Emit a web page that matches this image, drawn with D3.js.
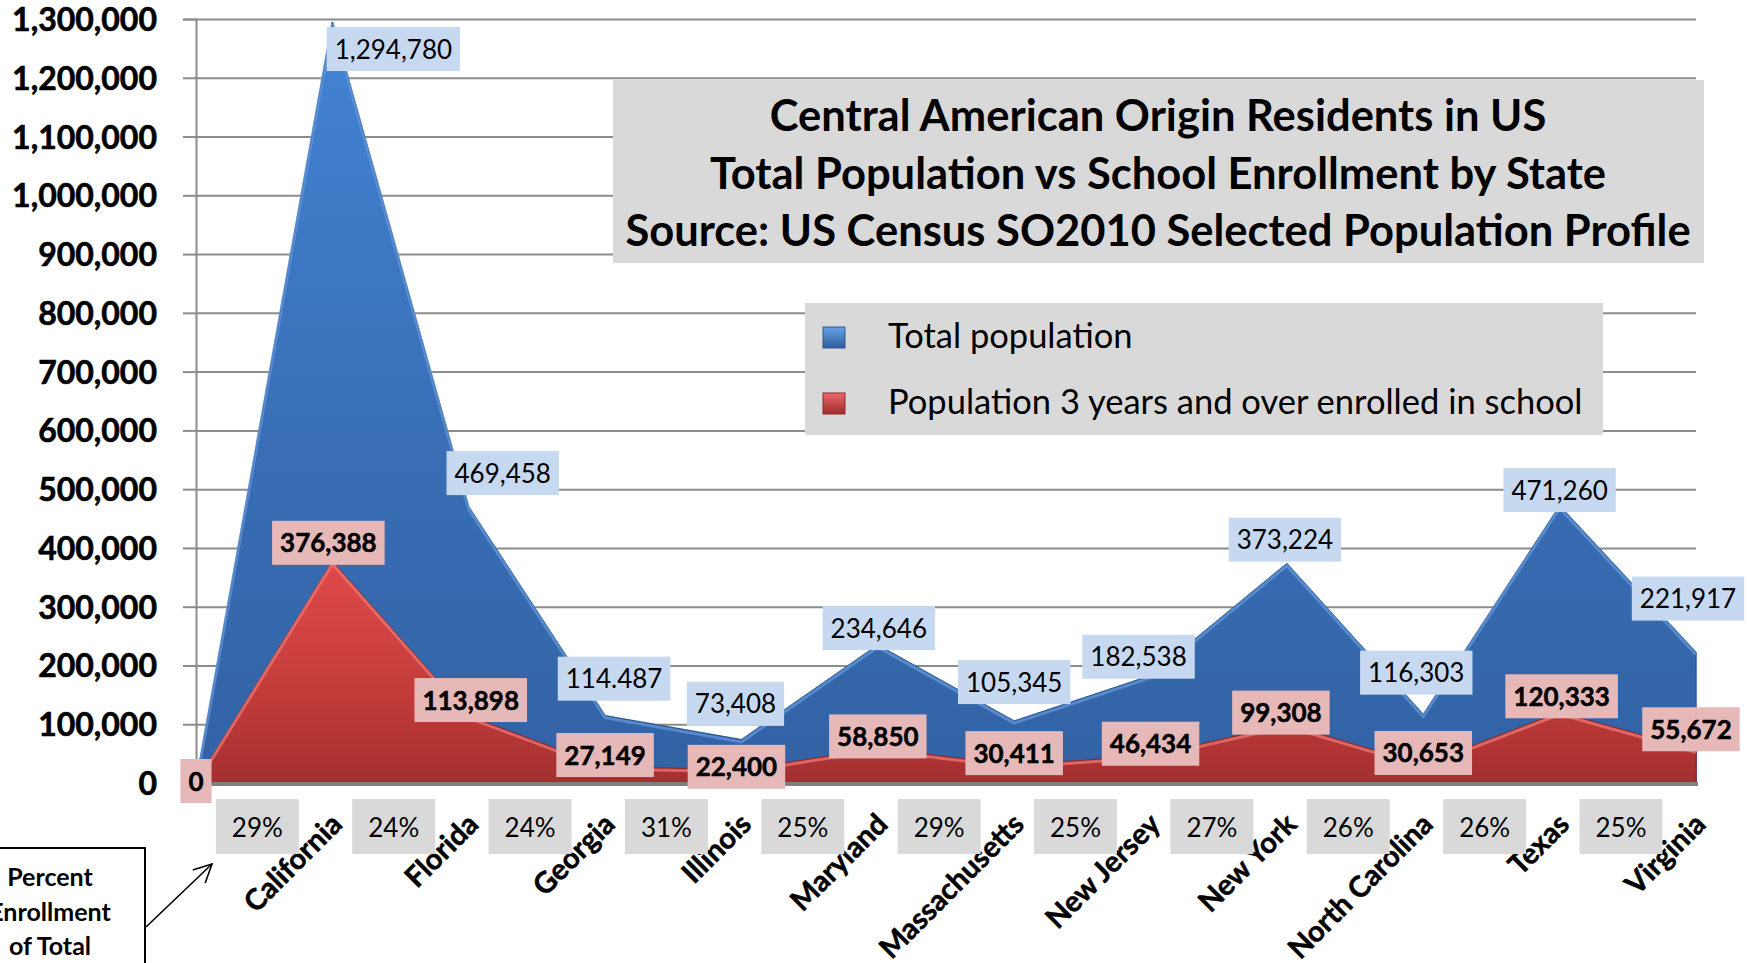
<!DOCTYPE html>
<html>
<head>
<meta charset="utf-8">
<script src="https://cdnjs.cloudflare.com/ajax/libs/d3/7.8.5/d3.min.js"></script>
<style>
  body { margin: 0; background: #ffffff; }
  svg { display: block; font-family: Lato, "Open Sans", sans-serif; }
</style>
</head>
<body>
<div id="vis"></div>
<script>
// ---- data ----
const states = ["", "California", "Florida", "Georgia", "Illinois", "Maryland", "Massachusetts",
                "New Jersey", "New York", "North Carolina", "Texas", "Virginia"];
const totalPop = [0, 1294780, 469458, 114487, 73408, 234646, 105345, 182538, 373224, 116303, 471260, 221917];
const enrolled = [0, 376388, 113898, 27149, 22400, 58850, 30411, 46434, 99308, 30653, 120333, 55672];
const pctLabels = ["29%", "24%", "24%", "31%", "25%", "29%", "25%", "27%", "26%", "26%", "25%"];
const yTicks = [0, 100000, 200000, 300000, 400000, 500000, 600000, 700000,
                800000, 900000, 1000000, 1100000, 1200000, 1300000];
const titleLines = ["Central American Origin Residents in US",
                    "Total Population vs School Enrollment by State",
                    "Source: US Census SO2010 Selected Population Profile"];
const legendLabels = ["Total population", "Population 3 years and over enrolled in school"];
const noteLines = ["Percent", "Enrollment", "of Total"];

const FRAME_WIDTH = 1748;
const FRAME_HEIGHT = 963;
const PLOT = {left: 196, right: 1696, top: 19, bottom: 783};

const FRAME = d3.select("#vis")
  .append("svg")
    .attr("width", FRAME_WIDTH)
    .attr("height", FRAME_HEIGHT);

const X_SCALE = d3.scalePoint().domain(states).range([PLOT.left, PLOT.right]);
const Y_SCALE = d3.scaleLinear().domain([0, 1300000]).range([PLOT.bottom, PLOT.top]);

const rows = states.map((s, i) => ({state: s, total: totalPop[i], enrolled: enrolled[i]}));

// gradients
const defs = FRAME.append("defs");
function vGrad(id, stops, y1, y2) {
  const g = defs.append("linearGradient").attr("id", id)
    .attr("gradientUnits", "userSpaceOnUse")
    .attr("x1", 0).attr("x2", 0).attr("y1", y1).attr("y2", y2);
  stops.forEach(s => g.append("stop").attr("offset", s[0]).attr("stop-color", s[1]));
}
vGrad("blueFill", [[0, "#4384d4"], [0.5, "#3a70b8"], [1, "#3262a4"]], PLOT.top, PLOT.bottom);
vGrad("redFill", [[0, "#e04a4a"], [0.6, "#c23c3a"], [1, "#a42f2f"]], Y_SCALE(376388), PLOT.bottom);
vGrad("blueSwatch", [[0, "#6aa2e6"], [1, "#2e5e9e"]], 0, 1);
vGrad("redSwatch", [[0, "#ee6a6a"], [1, "#9e2a2a"]], 0, 1);
defs.selectAll("#blueSwatch, #redSwatch").attr("gradientUnits", "objectBoundingBox");

defs.append("marker").attr("id", "arrow")
  .attr("viewBox", "0 0 20 20").attr("refX", 19).attr("refY", 10)
  .attr("markerWidth", 20).attr("markerHeight", 20)
  .attr("markerUnits", "userSpaceOnUse").attr("orient", "auto")
  .append("path").attr("d", "M1,1 L19,10 L1,19")
    .attr("fill", "none").attr("stroke", "#000").attr("stroke-width", 1.6);

// ---- gridlines + y axis ----
FRAME.append("g")
    .attr("transform", "translate(" + PLOT.left + ",0)")
    .call(d3.axisLeft(Y_SCALE).tickValues(yTicks.slice(1))
      .tickSize(-(PLOT.right - PLOT.left)).tickFormat(""))
    .call(g => g.select(".domain").remove())
    .selectAll("line").attr("stroke", "#8c8c8c").attr("stroke-width", 2);

FRAME.append("g")
    .attr("transform", "translate(" + PLOT.left + ",0)")
    .call(d3.axisLeft(Y_SCALE).tickValues(yTicks).tickSize(13).tickPadding(26)
      .tickFormat(d3.format(",")))
    .call(g => g.select(".domain").attr("stroke", "#8c8c8c").attr("stroke-width", 2))
    .call(g => g.selectAll("line").attr("stroke", "#8c8c8c").attr("stroke-width", 2))
    .selectAll("text")
      .attr("font-family", "Lato, sans-serif")
      .attr("font-size", "32px")
      .attr("font-weight", "bold")
      .attr("fill", "#000")
      .attr("stroke", "#000").attr("stroke-width", 0.6)
      .attr("dy", "0.36em");

// ---- areas ----
const totalArea = d3.area().x(d => X_SCALE(d.state)).y0(Y_SCALE(0)).y1(d => Y_SCALE(d.total));
const totalLine = d3.line().x(d => X_SCALE(d.state)).y(d => Y_SCALE(d.total));
const enrolledArea = d3.area().x(d => X_SCALE(d.state)).y0(Y_SCALE(0)).y1(d => Y_SCALE(d.enrolled));
const enrolledLine = d3.line().x(d => X_SCALE(d.state)).y(d => Y_SCALE(d.enrolled));

FRAME.append("path").datum(rows)
    .attr("d", totalArea)
    .attr("fill", "url(#blueFill)")
    .attr("stroke", "#2c5894").attr("stroke-width", 1.5);
FRAME.append("path").datum(rows)
    .attr("d", totalLine)
    .attr("fill", "none").attr("stroke", "#6ea4e6")
    .attr("stroke-width", 3).attr("stroke-opacity", 0.6)
    .attr("transform", "translate(0,2)");

FRAME.append("path").datum(rows)
    .attr("d", enrolledArea)
    .attr("fill", "url(#redFill)")
    .attr("stroke", "#8e2a2a").attr("stroke-width", 1.5);
FRAME.append("path").datum(rows)
    .attr("d", enrolledLine)
    .attr("fill", "none").attr("stroke", "#f27a7a")
    .attr("stroke-width", 3).attr("stroke-opacity", 0.7)
    .attr("transform", "translate(0,2)");

// x axis line
FRAME.append("line")
    .attr("x1", PLOT.left).attr("x2", PLOT.right + 2)
    .attr("y1", Y_SCALE(0) + 1).attr("y2", Y_SCALE(0) + 1)
    .attr("stroke", "#7f7f7f").attr("stroke-width", 4);

// category labels
FRAME.append("g")
    .attr("transform", "translate(0," + PLOT.bottom + ")")
    .call(d3.axisBottom(X_SCALE).tickSize(0))
    .call(g => g.select(".domain").remove())
    .selectAll("text")
      .attr("font-family", "Lato, sans-serif")
      .attr("font-size", "29px")
      .attr("font-weight", "bold")
      .attr("fill", "#000")
      .attr("stroke", "#000").attr("stroke-width", 0.5)
      .attr("text-anchor", "end")
      .attr("y", 0).attr("dy", 0)
      .attr("transform", "translate(11,43) rotate(-45)");

// ---- label boxes ----
function labelBox(cx, cy, text, fill, bold, padX) {
  const g = FRAME.append("g");
  const r = g.append("rect").attr("fill", fill);
  const t = g.append("text")
      .attr("x", cx).attr("y", cy + 9.5)
      .attr("text-anchor", "middle")
      .attr("font-size", "26px")
      .attr("font-weight", bold ? "bold" : "normal")
      .attr("fill", "#000")
      .text(text);
  if (bold) t.attr("stroke", "#000").attr("stroke-width", 0.5);
  const w = t.node().getComputedTextLength() + 2 * padX;
  r.attr("x", cx - w / 2).attr("y", cy - 22).attr("width", w).attr("height", 44);
  return r;
}

// small hand nudges, like the moved labels in the original
const blueNudge = {California: [61, 57], Florida: [34, -4], Georgia: [9, -7], Illinois: [-6, -6],
  Maryland: [1, 13], Massachusetts: [0, -9], "New Jersey": [-12, 11], "New York": [-2, 6],
  "North Carolina": [-7, -12], Texas: [0, 14], Virginia: [-8, -24]};
const redNudge = {"": [0, 10], California: [-4, -7], Florida: [2, -4], Illinois: [-5, 9],
  "New York": [-6, 0], Texas: [2, -4], Virginia: [-5, -9]};
const totalText = {Georgia: "114.487"};

rows.forEach(d => {
  if (d.state === "") return;
  const n = blueNudge[d.state] || [0, 0];
  const txt = totalText[d.state] || d3.format(",")(d.total);
  labelBox(X_SCALE(d.state) + n[0], Y_SCALE(d.total) - 30 + n[1], txt, "#c6d9f1", false, 8);
});
rows.forEach(d => {
  const n = redNudge[d.state] || [0, 0];
  labelBox(X_SCALE(d.state) + n[0], Y_SCALE(d.enrolled) - 12 + n[1],
           d3.format(",")(d.enrolled), "#e6b9b8", true, 8);
});

// percent boxes under the axis
states.slice(1).forEach((s, i) => {
  const g = FRAME.append("g");
  const cx = X_SCALE(s) - 75;
  const r = g.append("rect").attr("fill", "#d9d9d9");
  const t = g.append("text")
      .attr("x", cx).attr("y", 837)
      .attr("text-anchor", "middle")
      .attr("font-size", "26px")
      .attr("fill", "#000")
      .text(pctLabels[i]);
  const w = t.node().getComputedTextLength() + 32;
  r.attr("x", cx - w / 2).attr("y", 799).attr("width", w).attr("height", 55);
});

// ---- title box ----
FRAME.append("rect")
    .attr("x", 613).attr("y", 80).attr("width", 1091).attr("height", 183)
    .attr("fill", "#d9d9d9");
FRAME.selectAll(".title")
  .data(titleLines)
  .enter()
  .append("text")
    .attr("class", "title")
    .attr("x", 1158)
    .attr("y", (d, i) => 131 + i * 57.5)
    .attr("text-anchor", "middle")
    .attr("font-size", "43.5px")
    .attr("font-weight", "bold")
    .attr("fill", "#000")
    .text(d => d);

// ---- legend ----
FRAME.append("rect")
    .attr("x", 805).attr("y", 303).attr("width", 798).attr("height", 132)
    .attr("fill", "#d9d9d9");
const legend = FRAME.selectAll(".legend")
  .data(legendLabels)
  .enter()
  .append("g")
    .attr("class", "legend")
    .attr("transform", (d, i) => "translate(823," + (327 + i * 66) + ")");
legend.append("rect")
    .attr("width", 22).attr("height", 21)
    .attr("fill", (d, i) => i === 0 ? "url(#blueSwatch)" : "url(#redSwatch)")
    .attr("stroke", (d, i) => i === 0 ? "#2c5894" : "#8e2a2a").attr("stroke-width", 1);
legend.append("text")
    .attr("x", 65).attr("y", 21)
    .attr("font-size", "34.5px")
    .attr("fill", "#000")
    .text(d => d);

// ---- bottom-left note with arrow ----
FRAME.append("rect")
    .attr("x", -45).attr("y", 848).attr("width", 190).attr("height", 140)
    .attr("fill", "#fff").attr("stroke", "#000").attr("stroke-width", 2);
FRAME.selectAll(".note")
  .data(noteLines)
  .enter()
  .append("text")
    .attr("class", "note")
    .attr("x", 50)
    .attr("y", (d, i) => 886 + i * 34.5)
    .attr("text-anchor", "middle")
    .attr("font-size", "25px")
    .attr("font-weight", "bold")
    .attr("fill", "#000")
    .text(d => d);
FRAME.append("line")
    .attr("x1", 146).attr("y1", 927).attr("x2", 212).attr("y2", 864)
    .attr("stroke", "#000").attr("stroke-width", 1.6)
    .attr("marker-end", "url(#arrow)");
</script>
</body>
</html>
